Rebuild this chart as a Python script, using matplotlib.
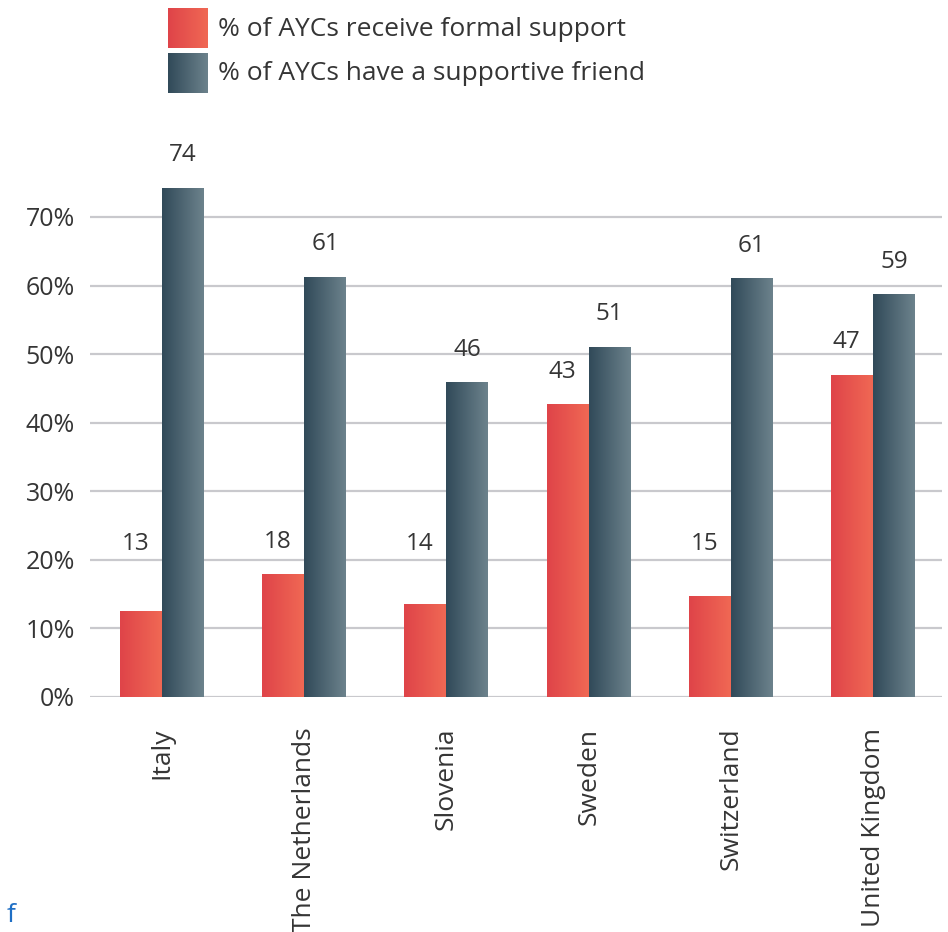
import numpy as np
import matplotlib
matplotlib.use("Agg")
import matplotlib.pyplot as plt
from matplotlib.colors import LinearSegmentedColormap

countries = ["Italy", "The Netherlands", "Slovenia", "Sweden", "Switzerland", "United Kingdom"]
series_names = ["% of AYCs receive formal support", "% of AYCs have a supportive friend"]
formal = [12.6, 17.9, 13.5, 42.7, 14.8, 47.0]
friend = [74.3, 61.3, 45.9, 51.1, 61.1, 58.8]
formal_labels = [13, 18, 14, 43, 15, 47]
friend_labels = [74, 61, 46, 51, 61, 59]
yticks = [0, 10, 20, 30, 40, 50, 60, 70]

plt.rcParams['font.family'] = ['Open Sans', 'DejaVu Sans']
TXT = "#353535"

red_cmap = LinearSegmentedColormap.from_list("r", ["#DF4449", "#F06854"])
dark_cmap = LinearSegmentedColormap.from_list("d", ["#314A59", "#6C828C"])
grad = np.linspace(0, 1, 64).reshape(1, -1)

W, H = 948, 932
fig = plt.figure(figsize=(W / 100, H / 100), dpi=100)
left, right, bottom, top = 90, 942, 697, 148
ax = fig.add_axes([left / W, 1 - bottom / H, (right - left) / W, (bottom - top) / H])

x = np.arange(len(countries))
bw = 0.295
ymax = (bottom - top) / ((697 - 217) / 70.0)

def grad_bars(xpos, vals, cmap):
    bars = ax.bar(xpos, vals, width=bw, color="none", edgecolor="none", zorder=3)
    for b in bars:
        x0, y0 = b.get_x(), b.get_y()
        im = ax.imshow(grad, cmap=cmap, aspect="auto",
                       extent=[x0, x0 + b.get_width(), y0, y0 + b.get_height()],
                       zorder=3, interpolation="bilinear")
        im.set_clip_path(b)
    return bars

grad_bars(x - bw / 2, formal, red_cmap)
grad_bars(x + bw / 2, friend, dark_cmap)
ax.set_xlim(-0.506, 5.484)
ax.set_ylim(0, ymax)

for i in range(len(countries)):
    ax.text(x[i] - bw / 2 - 0.04, max(formal[i], 17.6) + 4.7, str(formal_labels[i]),
            ha="center", va="center", fontsize=17.5, color=TXT, zorder=4)
    ax.text(x[i] + bw / 2, friend[i] + 4.7, str(friend_labels[i]),
            ha="center", va="center", fontsize=17.5, color=TXT, zorder=4)

ax.set_yticks(yticks)
ax.set_yticklabels([f"{t}%" for t in yticks])
ax.yaxis.grid(True, color="#C9C9CD", linewidth=1.6, zorder=0)
ax.set_axisbelow(True)
ax.tick_params(axis="y", length=0, pad=11, labelsize=18, labelcolor=TXT)
ax.set_xticks(x)
ax.set_xticklabels(countries, rotation=90, va="top", ha="center")
ax.tick_params(axis="x", length=0, pad=22, labelsize=19, labelcolor=TXT)
for s in ax.spines.values():
    s.set_visible(False)

# legend
leg_cmaps = [red_cmap, dark_cmap]
leg_rows = [(8, 48), (53, 93)]
for name, cm, (y0, y1) in zip(series_names, leg_cmaps, leg_rows):
    lax = fig.add_axes([168 / W, 1 - y1 / H, 40 / W, (y1 - y0) / H])
    lax.imshow(grad, cmap=cm, aspect="auto", interpolation="bilinear")
    lax.axis("off")
    fig.text(218 / W, 1 - ((y0 + y1) / 2 + 1) / H, name, ha="left", va="center",
             fontsize=19, color=TXT)

fig.text(7 / W, 1 - 916 / H, "f", ha="left", va="center", fontsize=19, color="#1F6FC5")

fig.savefig("out.png", dpi=100, facecolor="white")
